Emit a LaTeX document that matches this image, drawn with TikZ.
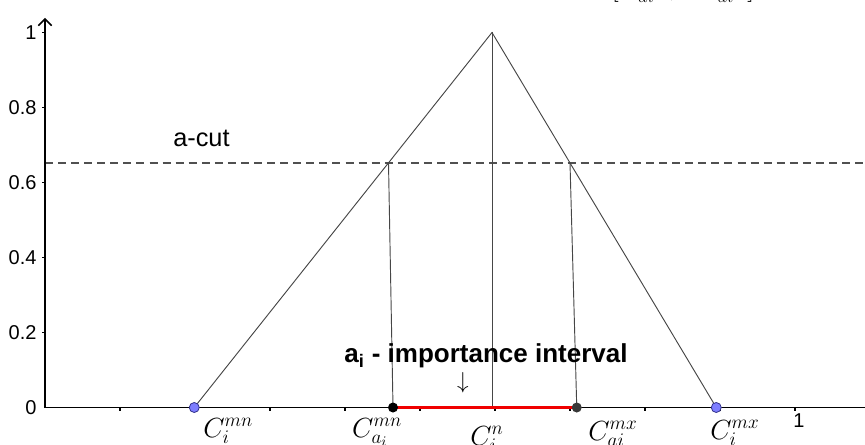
\documentclass[tikz,border=0pt]{standalone}
\usepackage{amsmath}
\usepackage{fontspec}
\newfontfamily\labelfont{Liberation Sans}
\usepackage{tikz}
\usetikzlibrary{arrows.meta}
\definecolor{ptblue}{RGB}{125,125,255}
\definecolor{ptedge}{RGB}{50,50,140}
\definecolor{linegray}{RGB}{70,70,70}
\definecolor{cutgray}{RGB}{80,80,80}
\definecolor{cutred}{RGB}{240,0,0}

\begin{document}
\begin{tikzpicture}[x=562.5pt,y=281.25pt,
  axis/.style={line width=1.1pt,black},
  edge/.style={line width=0.7pt,linegray},
  cutline/.style={line width=0.8pt,cutgray,dash pattern=on 6pt off 3.8pt},
  numlabel/.style={font=\labelfont\fontsize{15}{17}\selectfont,inner sep=0pt},
  pointlabel/.style={font=\fontsize{22}{24}\selectfont,inner sep=0pt,anchor=base west},
  freedot/.style={circle,fill=ptblue,draw=ptedge,line width=0.6pt,inner sep=0pt,minimum size=7.5pt},
  cutdot/.style={circle,inner sep=0pt,minimum size=7.5pt}]
  \clip (-0.06,-0.09733) rectangle (1.09333,1.08667);
  \coordinate (O) at (0,0);
  \coordinate (lo) at (0.199,0);
  \coordinate (top) at (0.596,1);
  \coordinate (hi) at (0.895,0);
  \coordinate (topfoot) at (0.596,0);
  \coordinate (cutL) at (0.458,0.652);
  \coordinate (cutR) at (0.700,0.652);
  \coordinate (aL) at (0.464,0);
  \coordinate (aR) at (0.709,0);
  \coordinate (cutstart) at (0,0.652);
  \coordinate (cutend) at (1.1,0.652);
  \coordinate (xend) at (1.1,0);
  \coordinate (yend) at (0,1.0387);
  % alpha-cut line
  \draw[cutline] (cutstart) -- (cutend);
  % axes
  \draw[axis] (O) -- (xend);
  \draw[axis,-{Straight Barb[length=5pt,width=10pt]}] (O) -- (yend);
  \foreach \k in {1,...,10}
    \draw[line width=0.8pt] (\k/10,0) -- ++(0,-2.5pt);
  \foreach \v in {0.2,0.4,0.6,0.8,1}
    \draw[line width=0.8pt] (0,\v) -- ++(-2.5pt,0);
  \foreach \v [count=\n] in {0,0.2,0.4,0.6,0.8,1}
    \node[numlabel,anchor=east] (ylab\n) at (-0.011,\v) {\v};
  \node[numlabel] (xone) at (1.0053,-0.036) {1};
  % membership triangle
  \draw[edge] (lo) -- (top) -- (hi);
  \draw[edge] (top) -- (topfoot);
  \draw[edge] (cutL) -- (aL);
  \draw[edge] (cutR) -- (aR);
  \draw[cutred,line width=2.2pt] (aL) -- (aR);
  \node[freedot] (dotlo) at (lo) {};
  \node[freedot] (dothi) at (hi) {};
  \node[cutdot,fill=black] (dotaL) at (aL) {};
  \node[cutdot,fill=linegray!80!black] (dotaR) at (aR) {};
  % labels
  \node[pointlabel] (lablo) at (0.2107,-0.0787) {$C_i^{mn}$};
  \node[pointlabel] (labaL) at (0.4093,-0.0787) {$C_{a_i}^{mn}$};
  \node[pointlabel] (labtop) at (0.5667,-0.1) {$C_i^{n}$};
  \node[pointlabel] (labaR) at (0.724,-0.0867) {$C_{ai}^{mx}$};
  \node[pointlabel] (labhi) at (0.8867,-0.084) {$C_i^{mx}$};
  \node[font=\labelfont\fontsize{19}{22}\selectfont,anchor=base west,inner sep=0pt] (cutlabel) at (0.1707,0.6973) {a-cut};
  \node[font=\labelfont\bfseries\fontsize{19.5}{22}\selectfont,anchor=base,inner sep=0pt] (implabel) at (0.588,0.1187) {a\textsubscript{i} - importance interval};
  \node[font=\fontsize{19}{21}\selectfont,inner sep=0pt] (down) at (0.5573,0.066) {$\downarrow$};
  \node[font=\fontsize{22}{24}\selectfont,anchor=south,inner sep=0pt] (interval) at (0.8507,1.079) {$\left[C_{ai}^{mn},\ \ C_{ai}^{mx}\right]$};
\end{tikzpicture}
\end{document}
